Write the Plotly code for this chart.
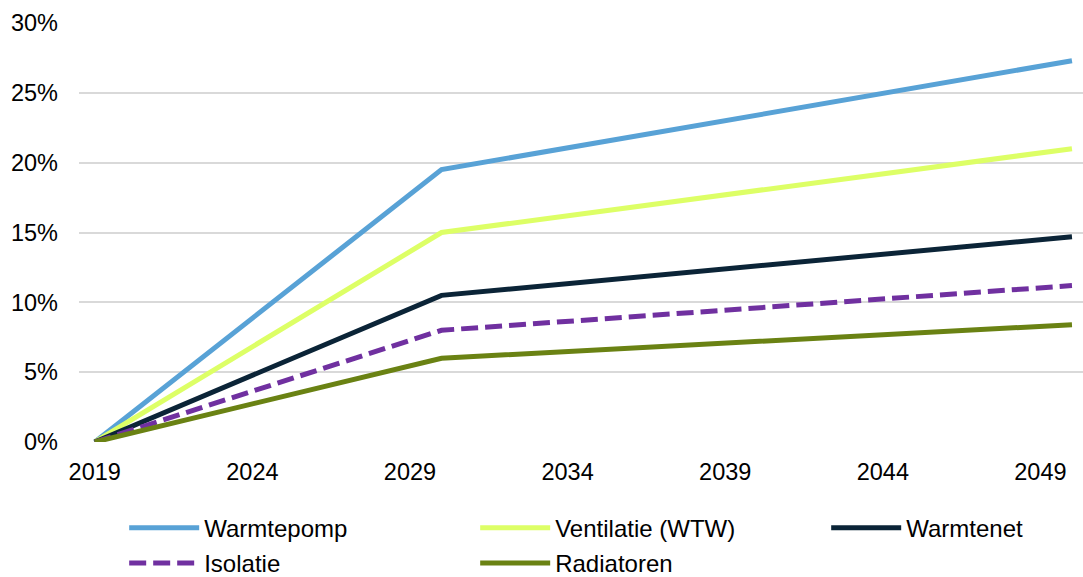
import plotly.graph_objects as go

years = [2019, 2030, 2050]
series_names = ["Warmtepomp", "Ventilatie (WTW)", "Warmtenet", "Isolatie", "Radiatoren"]
warmtepomp = [0.0, 0.195, 0.273]
ventilatie = [0.0, 0.150, 0.210]
warmtenet = [0.0, 0.105, 0.147]
isolatie = [0.0, 0.080, 0.112]
radiatoren = [0.0, 0.060, 0.084]
tick_years = [2019, 2024, 2029, 2034, 2039, 2044, 2049]
y_ticks = [0, 0.05, 0.10, 0.15, 0.20, 0.25, 0.30]

values = [warmtepomp, ventilatie, warmtenet, isolatie, radiatoren]
colors = ["#58A2D6", "#DDFF66", "#0B2437", "#7030A0", "#6A8213"]
dashes = ["solid", "solid", "solid", "17px,7px", "solid"]
legend_ids = ["legend", "legend", "legend", "legend2", "legend2"]
legend_widths = [266, 266, None, 266, None]

fig = go.Figure()
for name, vals, c, d, lg, lw in zip(series_names, values, colors, dashes, legend_ids, legend_widths):
    kw = dict(legendwidth=lw) if lw else {}
    fig.add_trace(go.Scatter(x=years, y=vals, name=name, mode="lines", legend=lg,
                             line=dict(color=c, width=5, dash=d), **kw))

tick_font = dict(family="Liberation Sans, Arial, sans-serif", size=23.5, color="#000000")
leg_font = dict(family="Liberation Sans, Arial, sans-serif", size=24, color="#000000")
common_leg = dict(orientation="h", xanchor="left", yanchor="top", itemwidth=70,
                  font=leg_font, traceorder="normal", bgcolor="rgba(0,0,0,0)")
fig.update_layout(
    width=1083, height=577,
    margin=dict(l=79, r=0, t=23, b=135, autoexpand=False),
    plot_bgcolor="white", paper_bgcolor="white",
    font=tick_font,
    showlegend=True,
    legend=dict(x=0.045, y=-0.152, **common_leg),
    legend2=dict(x=0.045, y=-0.236, **common_leg),
    xaxis=dict(range=[2018.5, 2050.35], tickvals=tick_years,
               ticktext=[str(t) for t in tick_years], showgrid=False,
               zeroline=False, showline=False, ticks="", ticklabelstandoff=13,
               automargin=False, tickfont=tick_font),
    yaxis=dict(range=[0, 0.30], tickvals=y_ticks, tickformat=".0%",
               showgrid=True, gridcolor="#D9D9D9", gridwidth=1.5,
               zeroline=False, showline=False, ticks="", ticklabelstandoff=20,
               automargin=False, tickfont=tick_font),
)
fig.write_html("out.html", config={"displayModeBar": False},
               post_script="document.body.style.margin='0';document.body.style.overflow='hidden';")
